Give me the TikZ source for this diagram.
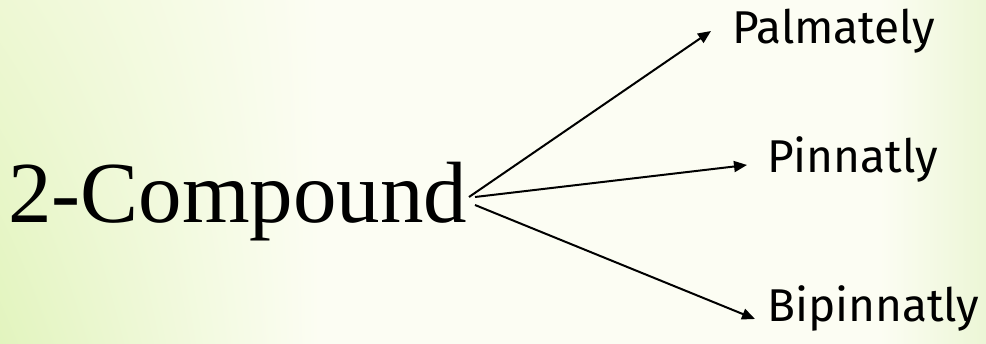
\documentclass[tikz,border=0pt]{standalone}
\usepackage{fontspec}
\setmainfont{Liberation Serif}
\newfontfamily\labfont{Fira Sans}
\usetikzlibrary{arrows.meta,shadings}
\definecolor{bgmid}{RGB}{252,253,243}
\definecolor{bgleft}{RGB}{238,248,212}
\definecolor{bgleftlow}{RGB}{226,244,190}
\definecolor{bgright}{RGB}{236,246,214}
\tikzset{
  leaflab/.style={anchor=base west, inner sep=0pt, font=\labfont\fontsize{46}{50}\selectfont},
  branch/.style={line width=2pt, -{Triangle[length=13pt,width=11pt]}},
}
\begin{document}
\begin{tikzpicture}[x=1pt,y=-1pt]
\useasboundingbox (0,0) rectangle (986,344);
\fill[bgmid] (0,0) rectangle (986,344);
\shade[upper left=bgleft, lower left=bgleftlow, upper right=bgmid, lower right=bgmid] (0,0) rectangle (320,344);
\shade[left color=bgmid, right color=bgright] (880,0) rectangle (986,344);

\node[anchor=base west, inner sep=0pt, font=\fontsize{87}{90}\selectfont] (comp) at (8,223) {2-Compound};
\node[leaflab] (pal) at (732,44) {Palmately};
\node[leaflab] (pin) at (767,173) {Pinnatly};
\node[leaflab] (bip) at (767,322) {Bipinnatly};

\coordinate (s1) at (469,197);
\coordinate (s2) at (475,197);
\coordinate (s3) at (475,205);
\coordinate (t1) at (711,31);
\coordinate (t2) at (747,165);
\coordinate (t3) at (755,319);

\draw[branch] (s1) -- (t1);
\draw[branch] (s2) -- (t2);
\draw[branch] (s3) -- (t3);
\end{tikzpicture}
\end{document}
